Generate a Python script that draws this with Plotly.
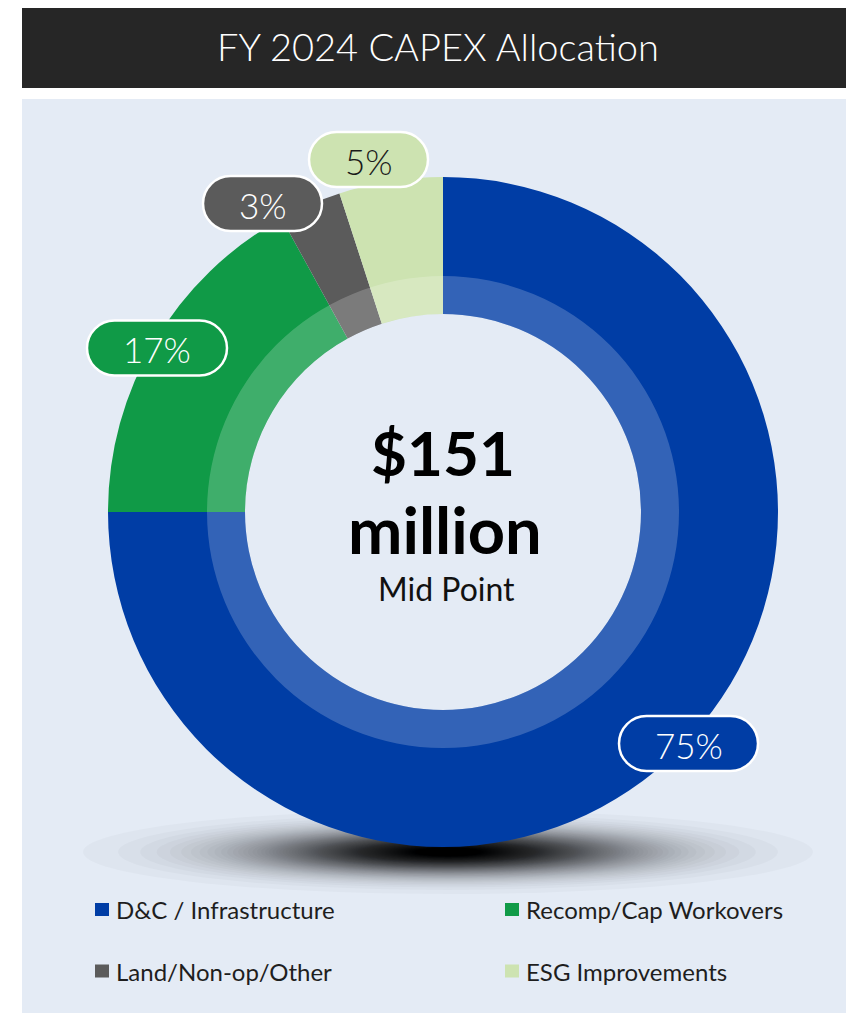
import math
import plotly.graph_objects as go

# ---------------- data ----------------
categories = ["D&C / Infrastructure", "Recomp/Cap Workovers", "Land/Non-op/Other", "ESG Improvements"]
shares = [75, 17, 3, 5]
colors = ["#003DA5", "#109A47", "#5B5B5B", "#CDE3B1"]
label_text_colors = ["#FFFFFF", "#FFFFFF", "#FFFFFF", "#1A1A1A"]
title_text = "FY 2024 CAPEX Allocation"
center_amount = "$151"
center_unit = "million"
center_note = "Mid Point"

# ---------------- layout constants (page pixels) ----------------
OFF = 8                      # default page body margin
PAGE_W, PAGE_H = 854, 1013
W, H = PAGE_W - OFF, PAGE_H - OFF
CX, CY, R_OUT = 443, 512, 335
R_RING, R_HOLE = 236, 198
FONT = "Lato"

# pill label centres (x, y, width) per category
pill_pos = [(688.5, 743.5, 139), (157, 348, 140), (262.5, 203.5, 119), (368.5, 159.5, 119)]
PILL_H = 55


def px_domain(cx, cy, r):
    return dict(x=[(cx - r - OFF) / W, (cx + r - OFF) / W],
                y=[1 - (cy + r - OFF) / H, 1 - (cy - r - OFF) / H])


def pill_path(cx, cy, w, h):
    r = h / 2
    k = 0.5523 * r
    x0, x1 = cx - w / 2, cx + w / 2
    y0, y1 = cy - h / 2, cy + h / 2
    return (f"M {x0 + r},{y0} L {x1 - r},{y0} "
            f"C {x1 - r + k},{y0} {x1},{cy - k} {x1},{cy} "
            f"C {x1},{cy + k} {x1 - r + k},{y1} {x1 - r},{y1} "
            f"L {x0 + r},{y1} "
            f"C {x0 + r - k},{y1} {x0},{cy + k} {x0},{cy} "
            f"C {x0},{cy - k} {x0 + r - k},{y0} {x0 + r},{y0} Z")


fig = go.Figure()

# main donut
fig.add_trace(go.Pie(
    values=shares, labels=categories, sort=False, direction="clockwise", rotation=0,
    hole=R_HOLE / R_OUT, domain=px_domain(CX, CY, R_OUT),
    marker=dict(colors=colors, line=dict(width=0)),
    textinfo="none", hoverinfo="label+percent", showlegend=False,
))
# translucent inner ring
fig.add_trace(go.Pie(
    values=[1], labels=["ring"], sort=False, hole=R_HOLE / R_RING,
    domain=px_domain(CX, CY, R_RING),
    marker=dict(colors=["rgba(255,255,255,0.2)"], line=dict(width=0)),
    textinfo="none", hoverinfo="skip", showlegend=False,
))

shapes = []
# title bar and panel
shapes.append(dict(type="rect", xref="x", yref="y", x0=22, x1=PAGE_W + 2, y0=3, y1=88,
                   fillcolor="#262626", line=dict(width=0), layer="below"))
shapes.append(dict(type="rect", xref="x", yref="y", x0=22, x1=PAGE_W + 2, y0=99, y1=PAGE_H + 2,
                   fillcolor="#E4EBF5", line=dict(width=0), layer="below"))

# soft gaussian-like shadow under the donut (stacked faint ellipses)
SH_ALPHA, SH_MAX = 0.022, 0.92
SH_CX, SH_CY, SH_A, SH_B = 448, 852, 365, 42
k = 1
levels = []
while True:
    d = 1 - (1 - SH_ALPHA) ** k
    if d >= SH_MAX:
        break
    levels.append(math.sqrt(2 * math.log(SH_MAX / d)))
    k += 1
r_max = levels[0]
for r in levels:
    a = SH_A * r / r_max
    b = SH_B * r / r_max
    shapes.append(dict(type="circle", xref="x", yref="y", x0=SH_CX - a, x1=SH_CX + a,
                       y0=SH_CY - b, y1=SH_CY + b, fillcolor=f"rgba(0,0,0,{SH_ALPHA})",
                       line=dict(width=0), layer="below"))

annotations = []
# pill labels
for (px, py, pw), v, c, tc in zip(pill_pos, shares, colors, label_text_colors):
    shapes.append(dict(type="path", xref="x", yref="y", path=pill_path(px, py, pw, PILL_H),
                       fillcolor=c, line=dict(color="#FFFFFF", width=2.5), layer="above"))
    annotations.append(dict(x=px, y=py + 1, xref="x", yref="y", text=f"{v}%", showarrow=False,
                            font=dict(family=FONT, size=35, color=tc, weight=300),
                            xanchor="center", yanchor="middle"))

# title
annotations.append(dict(x=438, y=46, xref="x", yref="y", text=title_text, showarrow=False,
                        font=dict(family=FONT, size=38, color="#FFFFFF", weight=300),
                        xanchor="center", yanchor="middle"))
# centre text
annotations.append(dict(x=CX, y=452, xref="x", yref="y", text=f"<b>{center_amount}</b>", showarrow=False,
                        font=dict(family=FONT, size=62, color="#000000", weight=900),
                        xanchor="center", yanchor="middle"))
annotations.append(dict(x=CX + 2, y=529, xref="x", yref="y", text=f"<b>{center_unit}</b>", showarrow=False,
                        font=dict(family=FONT, size=65, color="#000000", weight=900),
                        xanchor="center", yanchor="middle"))
annotations.append(dict(x=CX + 3, y=588, xref="x", yref="y", text=center_note, showarrow=False,
                        font=dict(family=FONT, size=32, color="#111111"),
                        xanchor="center", yanchor="middle"))

# legend (2 x 2 grid)
leg_cols = [95, 505]
leg_rows = [909.5, 971]
for i, (cat, c) in enumerate(zip(categories, colors)):
    lx = leg_cols[i % 2]
    ly = leg_rows[i // 2]
    shapes.append(dict(type="rect", xref="x", yref="y", x0=lx, x1=lx + 14, y0=ly - 6.5, y1=ly + 6.5,
                       fillcolor=c, line=dict(width=0), layer="above"))
    annotations.append(dict(x=lx + 19, y=ly, xref="x", yref="y", text=cat, showarrow=False,
                            font=dict(family=FONT, size=24, color="#1E1E1E"),
                            xanchor="left", yanchor="middle"))

fig.update_layout(
    width=W, height=H, margin=dict(l=0, r=0, t=0, b=0),
    paper_bgcolor="#FFFFFF", plot_bgcolor="rgba(0,0,0,0)",
    xaxis=dict(range=[OFF, OFF + W], visible=False, fixedrange=True, domain=[0, 1]),
    yaxis=dict(range=[OFF + H, OFF], visible=False, fixedrange=True, domain=[0, 1]),
    shapes=shapes, annotations=annotations, showlegend=False,
)

fig.write_html("out.html")
